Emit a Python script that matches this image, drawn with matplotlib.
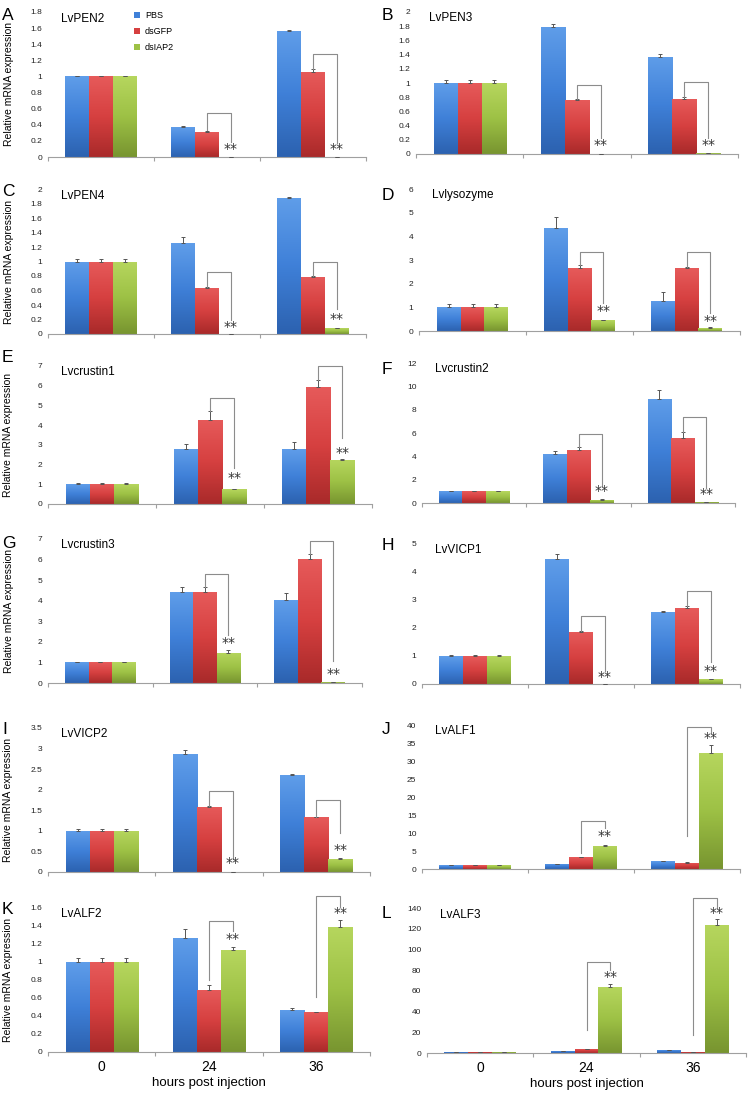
import numpy as np
import matplotlib
matplotlib.use('Agg')
import matplotlib.pyplot as plt
from matplotlib.colors import LinearSegmentedColormap
from matplotlib.patches import Patch

plt.rcParams['font.family'] = ['Liberation Sans', 'DejaVu Sans']

# ---- data ----
genes = ['LvPEN2', 'LvPEN3', 'LvPEN4', 'Lvlysozyme', 'Lvcrustin1', 'Lvcrustin2',
         'Lvcrustin3', 'LvVICP1', 'LvVICP2', 'LvALF1', 'LvALF2', 'LvALF3']
letters = ['A', 'B', 'C', 'D', 'E', 'F', 'G', 'H', 'I', 'J', 'K', 'L']
groups = ['0', '24', '36']
series = ['PBS', 'dsGFP', 'dsIAP2']

pbs = [[1, 0.37, 1.57], [1, 1.79, 1.37], [1, 1.25, 1.88], [1, 4.35, 1.28],
       [1, 2.78, 2.78], [1, 4.2, 8.95], [1, 4.42, 4.02], [1, 4.48, 2.57],
       [1, 2.86, 2.35], [1, 1.4, 2.1], [1, 1.27, 0.47], [1, 2.0, 3.0]]
dsgfp = [[1, 0.31, 1.06], [1, 0.76, 0.78], [1, 0.64, 0.79], [1, 2.65, 2.65],
         [1, 4.28, 5.92], [1, 4.58, 5.55], [1, 4.42, 6.05], [1, 1.87, 2.7],
         [1, 1.59, 1.33], [1, 3.3, 1.8], [1, 0.69, 0.44], [1, 4.0, 1.0]]
dsiap2 = [[1, 0.004, 0.005], [1, 0.005, 0.01], [1, 0.005, 0.08], [1, 0.45, 0.12],
          [1, 0.75, 2.25], [1, 0.3, 0.1], [1, 1.48, 0.04], [1, 0.01, 0.17],
          [1, 0.01, 0.32], [1, 6.5, 32.3], [1, 1.13, 1.39], [1, 64.0, 124.0]]
pbs_err = [[0.01, 0.01, 0.01], [0.04, 0.04, 0.04], [0.03, 0.09, 0.01], [0.13, 0.48, 0.35],
           [0.05, 0.25, 0.38], [0.05, 0.3, 0.75], [0.03, 0.23, 0.35], [0.02, 0.15, 0.02],
           [0.04, 0.1, 0.02], [0.1, 0.1, 0.1], [0.04, 0.1, 0.02], [0.3, 0.3, 0.3]]
dsgfp_err = [[0.01, 0.01, 0.03], [0.04, 0.01, 0.02], [0.03, 0.01, 0.01], [0.13, 0.13, 0.05],
             [0.05, 0.42, 0.38], [0.05, 0.2, 0.5], [0.03, 0.23, 0.2], [0.02, 0.04, 0.1],
             [0.04, 0.02, 0.01], [0.1, 0.1, 0.1], [0.04, 0.05, 0.01], [0.3, 0.3, 0.3]]
dsiap2_err = [[0.01, 0.0, 0.0], [0.04, 0.0, 0.0], [0.03, 0.0, 0.005], [0.13, 0.03, 0.03],
              [0.05, 0.03, 0.05], [0.05, 0.03, 0.02], [0.03, 0.12, 0.0], [0.02, 0.0, 0.01],
              [0.04, 0.0, 0.02], [0.1, 0.2, 2.2], [0.04, 0.04, 0.08], [0.3, 3.0, 5.0]]
ymax = [1.8, 2, 2, 6, 7, 12, 7, 5, 3.5, 40, 1.6, 140]
ystep = [0.2, 0.2, 0.2, 1, 1, 2, 1, 1, 0.5, 5, 0.2, 20]

# significance brackets: (panel, group, left leg bottom, top, right leg bottom, star y)
brackets = [(0, 1, 0.33, 0.55, 0.19, 0.1), (0, 2, 1.09, 1.28, 0.17, 0.1),
            (1, 1, 0.77, 0.97, 0.22, 0.12), (1, 2, 0.80, 1.01, 0.22, 0.12),
            (2, 1, 0.65, 0.85, 0.19, 0.1), (2, 2, 0.80, 1.0, 0.35, 0.2),
            (3, 1, 2.78, 3.33, 1.17, 0.85), (3, 2, 2.70, 3.33, 0.75, 0.44),
            (4, 1, 4.70, 5.4, 1.82, 1.3), (4, 2, 6.30, 7.0, 3.33, 2.6),
            (5, 1, 4.78, 5.94, 1.43, 1.0), (5, 2, 6.05, 7.34, 1.29, 0.8),
            (6, 1, 4.65, 5.28, 2.34, 1.94), (6, 2, 6.25, 6.9, 1.08, 0.44),
            (7, 1, 1.91, 2.42, 0.45, 0.24), (7, 2, 2.80, 3.33, 0.79, 0.45),
            (8, 1, 1.61, 1.98, 0.32, 0.22), (8, 2, 1.34, 1.74, 0.96, 0.54),
            (9, 1, 4.4, 13.4, 11.4, 9.1), (9, 2, 9.1, 39.5, 37.7, 36.3),
            (10, 1, 0.8, 1.46, 1.35, 1.25), (10, 2, 0.61, 1.73, 1.61, 1.54),
            (11, 1, 22.6, 88.3, 80.3, 73), (11, 2, 17.8, 150, 140, 135)]

# ---- layout (pixels: left, top, right, bottom) ----
W, H = 754, 1102
boxes = [(48, 12, 366, 157), (416, 12, 738, 154),
         (48, 189, 366, 334), (419, 189, 740, 331),
         (48, 366, 372, 504), (422, 363, 735, 503),
         (48, 539, 362, 683), (422, 544, 740, 684),
         (48, 728, 370, 872), (422, 725, 740, 869),
         (48, 908, 370, 1052), (427, 908, 746, 1053)]
letter_pos = [(2, 15), (382, 15), (2, 191), (382, 195), (2, 358), (382, 370),
              (2, 543), (382, 546), (2, 729), (382, 729), (2, 910), (382, 914)]

light = ['#5f9de9', '#e65a5a', '#b6d65e']
mid = ['#3f80d8', '#d64040', '#9dc145']
dark = ['#2c62b0', '#a92a2a', '#789530']
cmaps = [LinearSegmentedColormap.from_list('c%d' % i, [dark[i], mid[i], light[i]])
         for i in range(3)]
grad = np.linspace(0, 1, 64).reshape(-1, 1)

width = 0.224
offsets = [-width, 0, width]

fig = plt.figure(figsize=(W / 100, H / 100), dpi=100)

for p in range(12):
    l, t, r, b = boxes[p]
    ax = fig.add_axes([l / W, 1 - b / H, (r - l) / W, (b - t) / H])
    vals = [pbs[p], dsgfp[p], dsiap2[p]]
    errs = [pbs_err[p], dsgfp_err[p], dsiap2_err[p]]
    x = np.arange(3)
    for s in range(3):
        bars = ax.bar(x + offsets[s], vals[s], width, color=mid[s], zorder=2,
                      linewidth=0)
        for rect in bars:
            h = rect.get_height()
            if h <= 0:
                continue
            x0 = rect.get_x()
            im = ax.imshow(grad, cmap=cmaps[s], origin='lower', aspect='auto',
                           extent=[x0, x0 + width, 0, h], zorder=2.1)
            im.set_clip_path(rect)
        ax.errorbar(x + offsets[s], vals[s],
                    yerr=[np.zeros(3), errs[s]], fmt='none', ecolor='#555555',
                    elinewidth=0.7, capsize=1.2, capthick=0.7, zorder=3)

    for (pi, g, lb, top, rb, sy) in brackets:
        if pi != p:
            continue
        xl = g + offsets[1]
        xr = g + offsets[2]
        ax.plot([xl, xl, xr, xr], [lb, top, top, rb], color='#8c8c8c',
                lw=0.8, zorder=4, clip_on=False)
        ax.text(xr, sy, '**', ha='center', va='center', fontsize=10,
                color='#333333', zorder=5, family='DejaVu Sans')

    ax.set_xlim(-0.5, 2.5)
    ax.set_ylim(0, ymax[p])
    ticks = np.arange(0, ymax[p] + ystep[p] / 2, ystep[p])
    ax.set_yticks(ticks)
    ax.set_yticklabels(['%g' % round(v, 2) for v in ticks])
    ax.tick_params(axis='y', length=0, pad=4, labelsize=6, labelcolor='#222222')
    for side in ['top', 'right', 'left']:
        ax.spines[side].set_visible(False)
    ax.spines['bottom'].set_color('#a0a0a0')
    ax.spines['bottom'].set_linewidth(0.8)
    ax.set_xticks(x)
    ax.set_xticks([-0.5, 0.5, 1.5, 2.5], minor=True)
    ax.tick_params(axis='x', which='major', length=0, pad=6, labelsize=10)
    ax.tick_params(axis='x', which='minor', length=3, color='#a0a0a0', width=0.8)
    if p >= 10:
        ax.set_xticklabels(groups)
        ax.set_xlabel('hours post injection', fontsize=9.5, labelpad=2)
    else:
        ax.set_xticklabels([])
    if p % 2 == 0:
        ax.set_ylabel('Relative mRNA expression', fontsize=7.5)
        ax.yaxis.set_label_coords(-0.108, 0.5)
    ax.text(0.04, 0.955, genes[p], transform=ax.transAxes, fontsize=8.5,
            ha='left', va='center')
    if p == 0:
        handles = [Patch(facecolor=mid[i], label=series[i]) for i in range(3)]
        ax.legend(handles=handles, loc='upper left', bbox_to_anchor=(0.245, 1.06),
                  frameon=False, fontsize=6.5, handlelength=0.7, handleheight=0.7,
                  handletextpad=0.5, labelspacing=0.75)

for p in range(12):
    lx, ly = letter_pos[p]
    fig.text(lx / W, 1 - ly / H, letters[p], fontsize=12.5, ha='left', va='center')

fig.savefig('out.png', dpi=100)
